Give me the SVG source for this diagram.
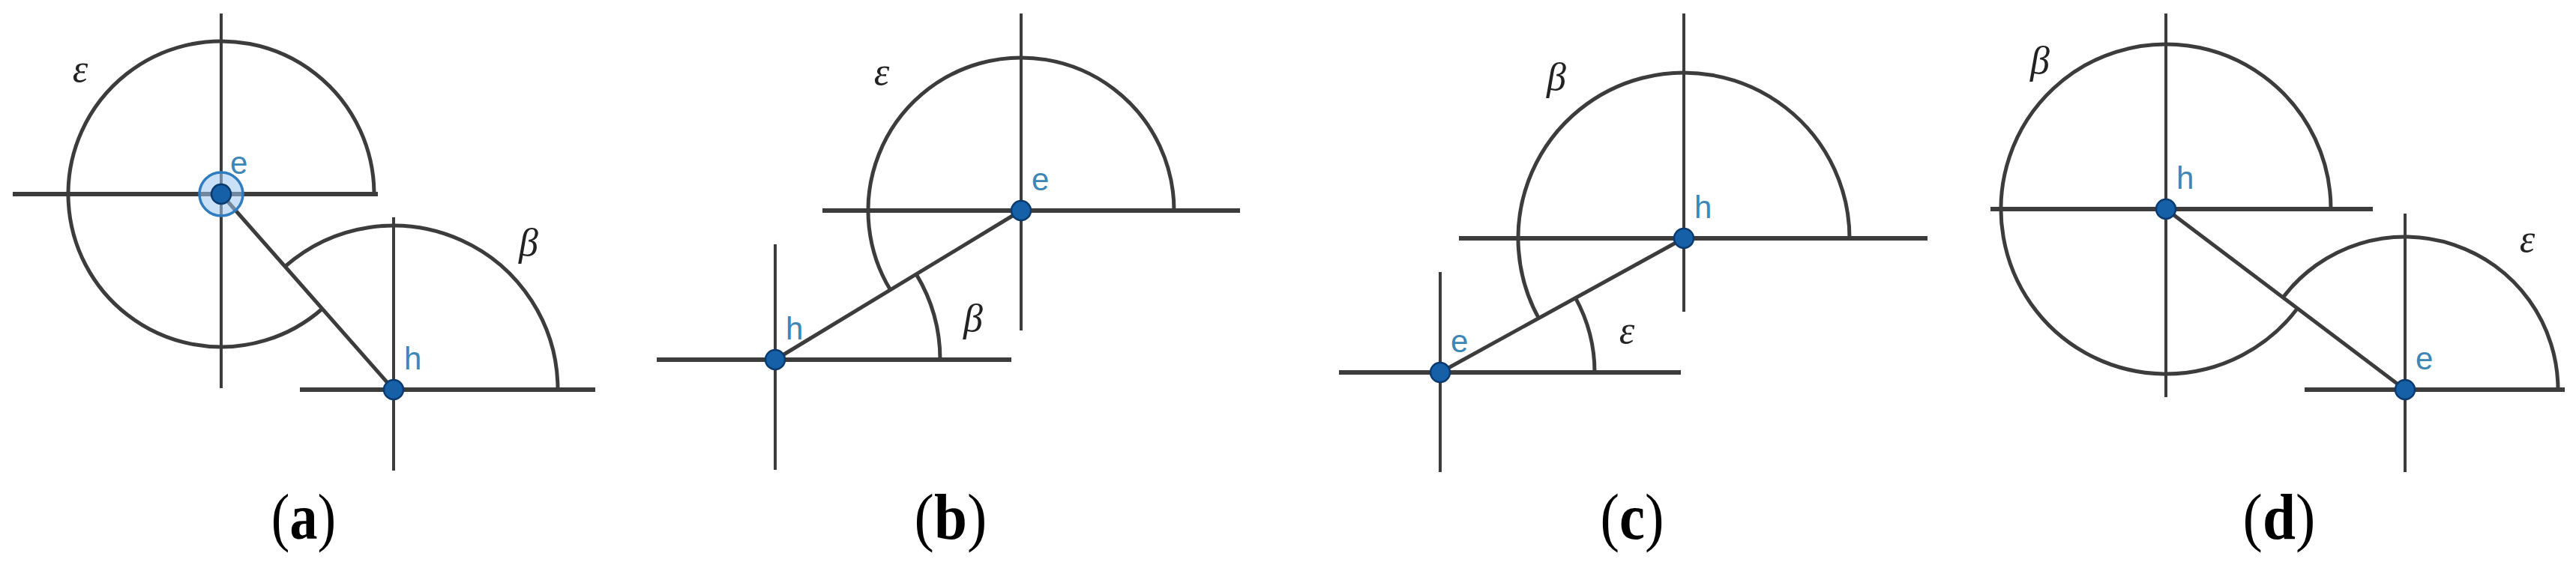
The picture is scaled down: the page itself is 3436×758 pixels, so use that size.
<svg xmlns="http://www.w3.org/2000/svg" width="3436" height="758" viewBox="0 0 3436 758">
<style>
.hl{stroke:#3c3c3c;stroke-width:6;fill:none}
.vl{stroke:#3c3c3c;stroke-width:4;fill:none}
.arc{stroke:#3c3c3c;stroke-width:5;fill:none}
.seg{stroke:#3c3c3c;stroke-width:5;fill:none}
.dot{fill:#1660a8;stroke:#0b3a6e;stroke-width:2.5}
.ring{fill:#9cc6ee;fill-opacity:0.55;stroke:#2f7cc0;stroke-width:3.5}
.pl{font-family:"Liberation Sans",Arial,sans-serif;font-size:42px;fill:#3d86b5}
.gk{font-family:"Liberation Serif","Times New Roman",serif;font-style:italic;font-size:52px;fill:#222;text-anchor:middle}
.cap{font-family:"Liberation Serif","Times New Roman",serif;font-size:86px;fill:#000}
.capb{font-family:"Liberation Serif","Times New Roman",serif;font-size:86px;font-weight:bold;fill:#000}
</style>
<rect width="3436" height="758" fill="#fff"/>

<!-- Panel (a) -->
<g id="panel-a">
  <g id="a-e">
    <line class="hl" x1="17" y1="259" x2="504" y2="259"/>
    <line class="vl" x1="295" y1="18" x2="295" y2="518"/>
    <path class="arc" d="M 499 259 A 204 204 0 1 0 429.9 412.0"/>
    <text class="gk" x="107" y="109">ε</text>
  </g>
  <g id="a-h">
    <line class="hl" x1="400" y1="520" x2="794" y2="520"/>
    <line class="vl" x1="525" y1="290" x2="525" y2="628"/>
    <path class="arc" d="M 744 520 A 219 219 0 0 0 380.2 355.7"/>
    <text class="gk" x="705" y="341">β</text>
  </g>
  <g id="a-connectors">
    <line class="seg" x1="295" y1="259" x2="525" y2="520"/>
  </g>
  <g id="a-points">
    <circle class="ring" cx="295" cy="259" r="29"/>
    <circle class="dot" cx="295" cy="259" r="13"/>
    <text class="pl" x="307" y="232">e</text>
    <circle class="dot" cx="525" cy="520" r="13"/>
    <text class="pl" x="539" y="493">h</text>
  </g>
  <g id="cap-a" transform="translate(405,719) scale(0.86,1)">
    <text class="cap" x="-50.2" y="0">(</text>
    <text class="capb" x="-21.6" y="0">a</text>
    <text class="cap" x="21.6" y="0">)</text>
  </g>
</g>

<!-- Panel (b) -->
<g id="panel-b">
  <g id="b-e">
    <line class="hl" x1="1097" y1="281" x2="1654" y2="281"/>
    <line class="vl" x1="1362" y1="18" x2="1362" y2="441"/>
    <path class="arc" d="M 1566 281 A 204 204 0 1 0 1187.6 386.8"/>
    <text class="gk" x="1176" y="113">ε</text>
  </g>
  <g id="b-h">
    <line class="hl" x1="876" y1="480" x2="1349" y2="480"/>
    <line class="vl" x1="1034" y1="326" x2="1034" y2="627"/>
    <path class="arc" d="M 1254 480 A 220 220 0 0 0 1222.1 365.9"/>
    <text class="gk" x="1298" y="442">β</text>
  </g>
  <g id="b-connectors">
    <line class="seg" x1="1362" y1="281" x2="1034" y2="480"/>
  </g>
  <g id="b-points">
    <circle class="dot" cx="1362" cy="281" r="13"/>
    <text class="pl" x="1376" y="254">e</text>
    <circle class="dot" cx="1034" cy="480" r="13"/>
    <text class="pl" x="1048" y="453">h</text>
  </g>
  <g id="cap-b" transform="translate(1268,719) scale(0.92,1)">
    <text class="cap" x="-52.6" y="0">(</text>
    <text class="capb" x="-24.0" y="0">b</text>
    <text class="cap" x="24.0" y="0">)</text>
  </g>
</g>

<!-- Panel (c) -->
<g id="panel-c">
  <g id="c-h">
    <line class="hl" x1="1946" y1="318" x2="2571" y2="318"/>
    <line class="vl" x1="2246" y1="18" x2="2246" y2="416"/>
    <path class="arc" d="M 2467 318 A 221 221 0 1 0 2052.4 424.6"/>
    <text class="gk" x="2076" y="120">β</text>
  </g>
  <g id="c-e">
    <line class="hl" x1="1786" y1="497" x2="2242" y2="497"/>
    <line class="vl" x1="1921" y1="363" x2="1921" y2="630"/>
    <path class="arc" d="M 2127 497 A 206 206 0 0 0 2101.5 397.6"/>
    <text class="gk" x="2170" y="458">ε</text>
  </g>
  <g id="c-connectors">
    <line class="seg" x1="2246" y1="318" x2="1921" y2="497"/>
  </g>
  <g id="c-points">
    <circle class="dot" cx="2246" cy="318" r="13"/>
    <text class="pl" x="2260" y="291">h</text>
    <circle class="dot" cx="1921" cy="497" r="13"/>
    <text class="pl" x="1935" y="470">e</text>
  </g>
  <g id="cap-c" transform="translate(2177,719) scale(0.89,1)">
    <text class="cap" x="-47.8" y="0">(</text>
    <text class="capb" x="-19.2" y="0">c</text>
    <text class="cap" x="19.2" y="0">)</text>
  </g>
</g>

<!-- Panel (d) -->
<g id="panel-d">
  <g id="d-h">
    <line class="hl" x1="2655" y1="279" x2="3165" y2="279"/>
    <line class="vl" x1="2889" y1="18" x2="2889" y2="530"/>
    <path class="arc" d="M 3109 279 A 220 220 0 1 0 3064.5 411.6"/>
    <text class="gk" x="2721" y="98">β</text>
  </g>
  <g id="d-e">
    <line class="hl" x1="3074" y1="520" x2="3421" y2="520"/>
    <line class="vl" x1="3208" y1="285" x2="3208" y2="630"/>
    <path class="arc" d="M 3412 520 A 204 204 0 0 0 3045.2 397.0"/>
    <text class="gk" x="3371" y="336">ε</text>
  </g>
  <g id="d-connectors">
    <line class="seg" x1="2889" y1="279" x2="3208" y2="520"/>
  </g>
  <g id="d-points">
    <circle class="dot" cx="2889" cy="279" r="13"/>
    <text class="pl" x="2903" y="252">h</text>
    <circle class="dot" cx="3208" cy="520" r="13"/>
    <text class="pl" x="3222" y="493">e</text>
  </g>
  <g id="cap-d" transform="translate(3040,719) scale(0.92,1)">
    <text class="cap" x="-52.6" y="0">(</text>
    <text class="capb" x="-24.0" y="0">d</text>
    <text class="cap" x="24.0" y="0">)</text>
  </g>
</g>
</svg>
